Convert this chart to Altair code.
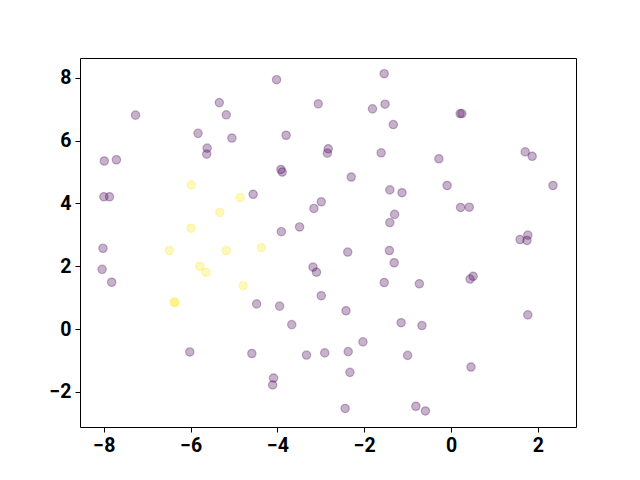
import altair as alt
import pandas as pd

purple_x = [-1.54, -4.02, -3.06, -1.81, -1.52, -1.33, -3.80, -2.83, -2.85, -1.61,
            -3.92, -3.89, -2.30, -4.56, -1.41, -1.13, -2.99, -3.16, -1.30, -1.41,
            -3.91, -3.49, -5.34, -7.27, -5.18, -5.83, -5.05, -5.62, -5.63, -7.99,
            -7.71, -8.00, -7.87, -8.02, -8.04, -7.82, -6.02, -4.59, 0.21, 0.25,
            -0.28, 1.71, 1.87, 2.35, -0.09, 0.22, 0.42, 1.59, 1.77, 1.75,
            -2.38, -1.42, -1.31, -3.18, -3.10, -1.54, -2.99, -4.48, -3.95, -2.42,
            -1.15, -3.67, -2.03, -3.33, -2.91, -2.37, -1.00, -2.33, -4.09, -4.11,
            -2.44, -0.73, 0.51, 0.44, 1.77, -0.67, 0.46, -0.81, -0.59]
purple_y = [8.13, 7.94, 7.17, 7.01, 7.16, 6.51, 6.17, 5.74, 5.60, 5.61,
            5.08, 5.00, 4.84, 4.29, 4.43, 4.34, 4.05, 3.84, 3.65, 3.39,
            3.10, 3.25, 7.21, 6.81, 6.82, 6.23, 6.08, 5.76, 5.57, 5.35,
            5.39, 4.21, 4.21, 2.57, 1.90, 1.49, -0.73, -0.78, 6.86, 6.86,
            5.42, 5.64, 5.50, 4.57, 4.57, 3.87, 3.88, 2.85, 2.99, 2.82,
            2.45, 2.50, 2.11, 1.97, 1.81, 1.48, 1.06, 0.80, 0.73, 0.58,
            0.20, 0.14, -0.41, -0.83, -0.76, -0.72, -0.84, -1.38, -1.56, -1.78,
            -2.53, 1.44, 1.68, 1.59, 0.45, 0.11, -1.21, -2.46, -2.61]

yellow_x = [-5.99, -4.86, -5.33, -5.99, -6.49, -5.18, -4.37, -5.79, -5.65, -4.79, -6.38, -6.36]
yellow_y = [4.59, 4.19, 3.71, 3.21, 2.50, 2.50, 2.59, 2.00, 1.81, 1.38, 0.86, 0.84]

df = pd.concat([
    pd.DataFrame({"x": purple_x, "y": purple_y, "c": "a"}),
    pd.DataFrame({"x": yellow_x, "y": yellow_y, "c": "b"}),
])

axis_common = dict(
    title=None, grid=False, labelFont="Roboto", labelFontWeight="bold",
    labelFontSize=19.5, labelColor="black", tickColor="black", tickSize=5,
    domain=False, labelPadding=4, labelFlush=False, labelOverlap=False,
)

cscale = alt.Scale(domain=["a", "b"], range=["#440154", "#fde725"])

chart = alt.Chart(df).mark_point(
    shape="circle", size=70, filled=True, fillOpacity=0.3, strokeOpacity=0.3, strokeWidth=1.2
).encode(
    x=alt.X("x:Q", scale=alt.Scale(domain=[-8.55, 2.88], nice=False, zero=False),
            axis=alt.Axis(values=[-8, -6, -4, -2, 0, 2], **axis_common)),
    y=alt.Y("y:Q", scale=alt.Scale(domain=[-3.12, 8.63], nice=False, zero=False),
            axis=alt.Axis(values=[-2, 0, 2, 4, 6, 8], **axis_common)),
    fill=alt.Fill("c:N", scale=cscale, legend=None),
    stroke=alt.Stroke("c:N", scale=cscale, legend=None),
).properties(
    width=496, height=369,
    autosize=alt.AutoSizeParams(type="none"),
    padding={"left": 72, "top": 50, "right": 56, "bottom": 45},
).configure_view(stroke="black", strokeWidth=1)

chart.save("out.html", embed_options={"renderer": "svg", "actions": False})
